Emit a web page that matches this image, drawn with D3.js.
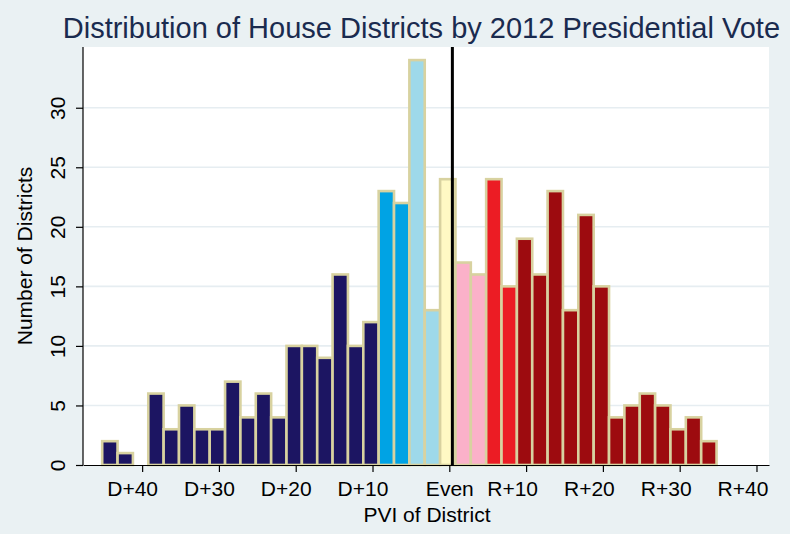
<!DOCTYPE html>
<html>
<head>
<meta charset="utf-8">
<script src="https://cdn.jsdelivr.net/npm/d3@7"></script>
<style>
  html, body { margin: 0; padding: 0; background: #eaf1f3; }
  svg { display: block; }
  text { font-family: "Liberation Sans", Arial, sans-serif; }
</style>
</head>
<body>
<svg id="chart" width="790" height="534"></svg>
<script>
// ---- data ----
const binCenters = [-44,-42,-40,-38,-36,-34,-32,-30,-28,-26,-24,-22,-20,-18,-16,-14,-12,-10,-8,-6,-4,-2,0,2,4,6,8,10,12,14,16,18,20,22,24,26,28,30,32,34];
const counts     = [2,1,0,6,3,5,3,3,7,4,6,4,10,10,9,16,10,12,23,22,34,13,24,17,16,24,15,19,16,23,13,21,15,4,5,6,5,3,4,2];
const groups     = ["D","D","D","D","D","D","D","D","D","D","D","D","D","D","D","D","D","D","LD","LD","TD","TD","E","TR","TR","LR","LR","R","R","R","R","R","R","R","R","R","R","R","R","R"];
const xTickValues = [-40,-30,-20,-10,0,10,20,30,40];
const xTickLabels = ["D+40","D+30","D+20","D+10","Even","R+10","R+20","R+30","R+40"];
const yTickValues = [0,5,10,15,20,25,30];
const meanLine = [0.4];

const titleText = "Distribution of House Districts by 2012 Presidential Vote";
const xTitle = "PVI of District";
const yTitle = "Number of Districts";

(function () {
// ---- styles ----
const colorMap = { D:"#1c1562", LD:"#00a3e4", TD:"#9ed9ea", E:"#fff9c4", TR:"#fbb1c9", LR:"#ec1c24", R:"#9d0b0f" };
const binOffset = -0.2;

const svg = d3.select("#chart");
const W = 790, H = 534;
const pL = 83, pR = 769, pT = 47, pB = 465;

svg.append("rect").attr("width", W).attr("height", H).attr("fill", "#eaf1f3");
svg.append("rect").attr("x", pL).attr("y", pT).attr("width", pR-pL).attr("height", pB-pT).attr("fill", "#ffffff");

const x = d3.scaleLinear().domain([-47.7, 41.63]).range([pL, pR]);
const y = d3.scaleLinear().domain([0, 35.1]).range([pB, pT]);

// grid
svg.append("g").selectAll("line").data(yTickValues.filter(d => d > 0)).join("line")
  .attr("x1", pL).attr("x2", pR)
  .attr("y1", d => y(d)).attr("y2", d => y(d))
  .attr("stroke", "#e6edf1").attr("stroke-width", 1.6);

// bars
const data = binCenters.map((c, i) => ({ c, v: counts[i], g: groups[i] }));
svg.append("g").selectAll("rect").data(data.filter(d => d.v > 0)).join("rect")
  .attr("x", d => x(d.c - 1 + binOffset))
  .attr("width", d => x(d.c + 1 + binOffset) - x(d.c - 1 + binOffset))
  .attr("y", d => y(d.v))
  .attr("height", d => y(0) - y(d.v))
  .attr("fill", d => colorMap[d.g])
  .attr("stroke", "#d8d2a0")
  .attr("stroke-width", 2.6);

// x axis
const xAxis = d3.axisBottom(x).tickValues(xTickValues)
  .tickFormat((d, i) => xTickLabels[i]).tickSize(7).tickSizeOuter(0);
const gx = svg.append("g").attr("transform", `translate(0,${pB})`).call(xAxis);
gx.select(".domain").attr("stroke", "#000").attr("stroke-width", 1.2);
gx.selectAll(".tick line").attr("stroke", "#000").attr("stroke-width", 1.2);
gx.selectAll(".tick text")
  .attr("y", 31).attr("dy", 0)
  .attr("dx", (d, i) => xTickLabels[i].startsWith("D") ? -10 : (xTickLabels[i].startsWith("R") ? -14 : 0))
  .attr("fill", "#000").style("font-size", "21px")
  .style("font-family", '"Liberation Sans", Arial, sans-serif');

// y axis
const yAxis = d3.axisLeft(y).tickValues(yTickValues).tickSize(7).tickSizeOuter(0);
const gy = svg.append("g").attr("transform", `translate(${pL},0)`).call(yAxis);
gy.select(".domain").attr("stroke", "#000").attr("stroke-width", 1.2)
  .attr("d", `M0,${pB}V${pT}`);
gy.selectAll(".tick line").attr("stroke", "#000").attr("stroke-width", 1.2);
gy.selectAll(".tick text")
  .attr("x", 0).attr("dy", 0)
  .attr("text-anchor", "middle")
  .attr("transform", "translate(-18,0) rotate(-90)")
  .attr("fill", "#000").style("font-size", "21px")
  .style("font-family", '"Liberation Sans", Arial, sans-serif');

// reference line
svg.append("g").selectAll("line").data(meanLine).join("line")
  .attr("x1", d => x(d)).attr("x2", d => x(d))
  .attr("y1", pT).attr("y2", pB)
  .attr("stroke", "#000").attr("stroke-width", 3);

// titles
svg.append("text").attr("x", 421.4).attr("y", 38.3)
  .attr("text-anchor", "middle").attr("fill", "#1a2b4f")
  .style("font-size", "29px").text(titleText);

svg.append("text").attr("x", 427).attr("y", 522)
  .attr("text-anchor", "middle").attr("fill", "#000")
  .style("font-size", "21px").text(xTitle);

svg.append("text").attr("transform", "translate(31.5,256) rotate(-90)")
  .attr("text-anchor", "middle").attr("fill", "#000")
  .style("font-size", "21px").text(yTitle);
})();
</script>
</body>
</html>
